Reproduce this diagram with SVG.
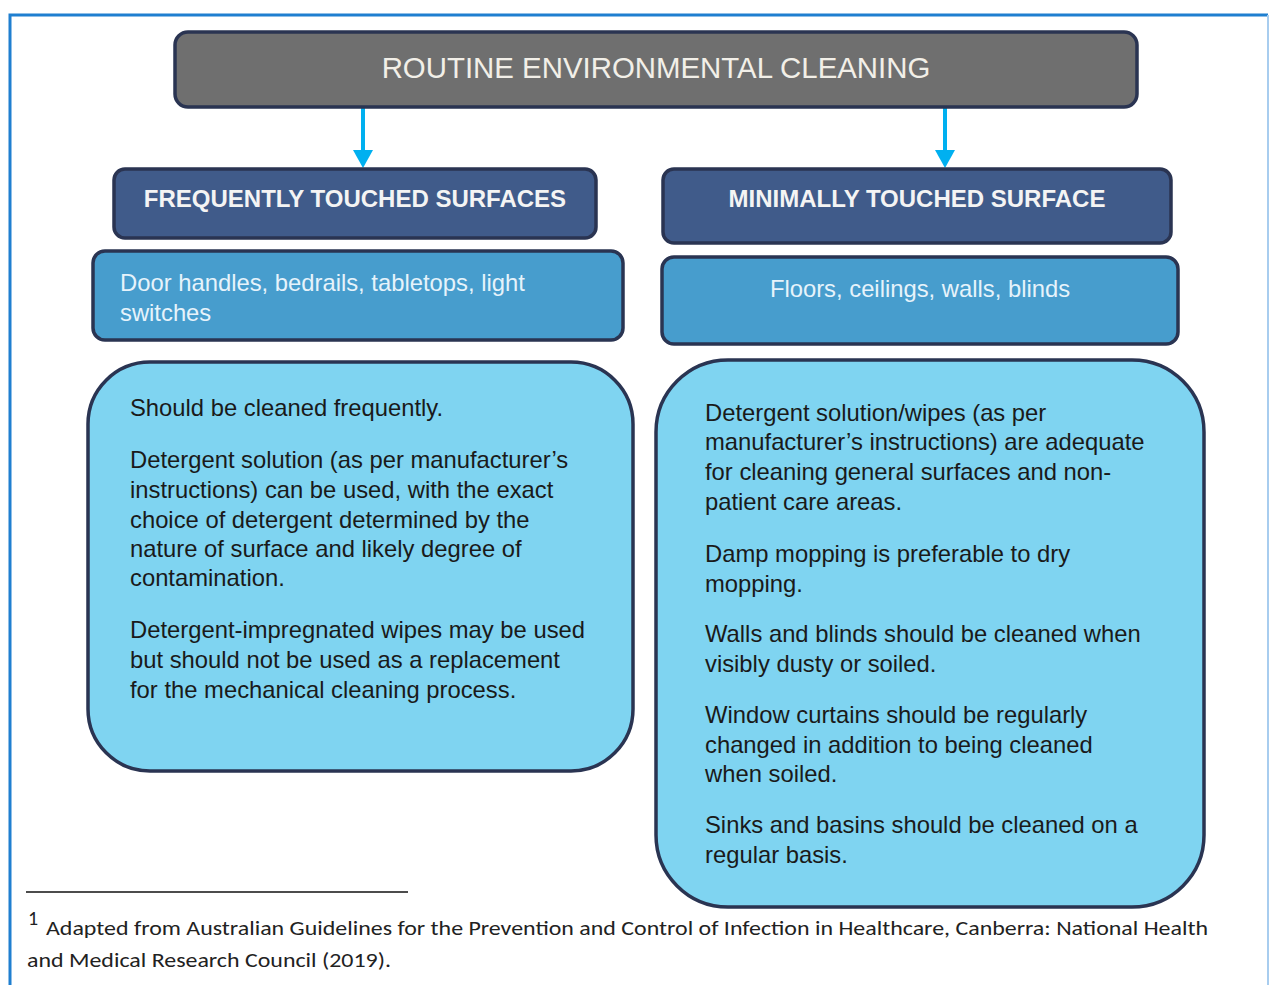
<svg xmlns="http://www.w3.org/2000/svg" width="1271" height="985" viewBox="0 0 1271 985">
<defs>
<style>
.frame{fill:none;stroke:#1f7fd0;stroke-width:3}
.title{fill:#6f6f6f;stroke:#2a3452;stroke-width:3.5}
.hdr{fill:#405b8a;stroke:#2a3452;stroke-width:3.5}
.sub{fill:#479dcd;stroke:#2a3452;stroke-width:3.5}
.big{fill:#7fd4f1;stroke:#2a3452;stroke-width:3.5}
.t-title{font-family:"Liberation Sans",Arial,sans-serif;font-size:29.4px;fill:#f2efe8}
.t-hdr{font-family:"Liberation Sans",Arial,sans-serif;font-size:24px;font-weight:bold;fill:#f4f4f4}
.t-sub{font-family:"Liberation Sans",Arial,sans-serif;font-size:23.8px;fill:#e6f3fb}
.t-body{font-family:"Liberation Sans",Arial,sans-serif;font-size:23.8px;fill:#1a1a1a}
.t-foot{font-family:Carlito,"Noto Sans",sans-serif;font-size:20px;fill:#222}
.conn{stroke:#00b0f0;stroke-width:4;fill:none}
</style>
</defs>
<rect x="0" y="0" width="1271" height="985" fill="#ffffff"/>
<path d="M10,990 L10,15 L1268,15" class="frame"/>
<path d="M1268,15 L1268,990" stroke="#a8cdef" stroke-width="2" fill="none"/>

<g id="connectors">
<line x1="363" y1="108" x2="363" y2="150" class="conn"/>
<path d="M353,150 L373,150 L363,168 Z" fill="#00b0f0"/>
<line x1="945" y1="108" x2="945" y2="150" class="conn"/>
<path d="M935,150 L955,150 L945,168 Z" fill="#00b0f0"/>
</g>

<g id="node-title">
<rect x="175" y="32" width="962" height="75" rx="13" class="title"/>
<text x="656" y="78" text-anchor="middle" class="t-title">ROUTINE ENVIRONMENTAL CLEANING</text>
</g>

<g id="node-frequent-header">
<rect x="114" y="169" width="482" height="69" rx="11" class="hdr"/>
<text x="355" y="207" text-anchor="middle" class="t-hdr">FREQUENTLY TOUCHED SURFACES</text>
</g>

<g id="node-minimal-header">
<rect x="663" y="169" width="508" height="74" rx="11" class="hdr"/>
<text x="917" y="207" text-anchor="middle" class="t-hdr">MINIMALLY TOUCHED SURFACE</text>
</g>

<g id="node-frequent-examples">
<rect x="93" y="251" width="530" height="89" rx="12" class="sub"/>
<text x="120" y="291" class="t-sub">Door handles, bedrails, tabletops, light</text>
<text x="120" y="321" class="t-sub">switches</text>
</g>

<g id="node-minimal-examples">
<rect x="662" y="257" width="516" height="87" rx="12" class="sub"/>
<text x="920" y="297" text-anchor="middle" class="t-sub">Floors, ceilings, walls, blinds</text>
</g>

<g id="node-frequent-details">
<rect x="88" y="362" width="545" height="409" rx="62" class="big"/>
<text class="t-body">
<tspan x="130" y="416">Should be cleaned frequently.</tspan>
<tspan x="130" y="468">Detergent solution (as per manufacturer’s</tspan>
<tspan x="130" y="498">instructions) can be used, with the exact</tspan>
<tspan x="130" y="528">choice of detergent determined by the</tspan>
<tspan x="130" y="557">nature of surface and likely degree of</tspan>
<tspan x="130" y="586">contamination.</tspan>
<tspan x="130" y="638">Detergent-impregnated wipes may be used</tspan>
<tspan x="130" y="668">but should not be used as a replacement</tspan>
<tspan x="130" y="698">for the mechanical cleaning process.</tspan>
</text>
</g>

<g id="node-minimal-details">
<rect x="656" y="360" width="548" height="547" rx="72" class="big"/>
<text class="t-body">
<tspan x="705" y="421">Detergent solution/wipes (as per</tspan>
<tspan x="705" y="450">manufacturer’s instructions) are adequate</tspan>
<tspan x="705" y="480">for cleaning general surfaces and non-</tspan>
<tspan x="705" y="510">patient care areas.</tspan>
<tspan x="705" y="562">Damp mopping is preferable to dry</tspan>
<tspan x="705" y="592">mopping.</tspan>
<tspan x="705" y="642">Walls and blinds should be cleaned when</tspan>
<tspan x="705" y="672">visibly dusty or soiled.</tspan>
<tspan x="705" y="723">Window curtains should be regularly</tspan>
<tspan x="705" y="753">changed in addition to being cleaned</tspan>
<tspan x="705" y="782">when soiled.</tspan>
<tspan x="705" y="833">Sinks and basins should be cleaned on a</tspan>
<tspan x="705" y="863">regular basis.</tspan>
</text>
</g>

<g id="footnote">
<line x1="26" y1="892" x2="408" y2="892" stroke="#111" stroke-width="1.5"/>
<text x="28" y="925" class="t-foot" font-size="13">1</text>
<text x="46" y="935" class="t-foot" textLength="1162" lengthAdjust="spacingAndGlyphs">Adapted from Australian Guidelines for the Prevention and Control of Infection in Healthcare, Canberra: National Health</text>
<text x="27" y="967" class="t-foot" textLength="364" lengthAdjust="spacingAndGlyphs">and Medical Research Council (2019).</text>
</g>
</svg>
